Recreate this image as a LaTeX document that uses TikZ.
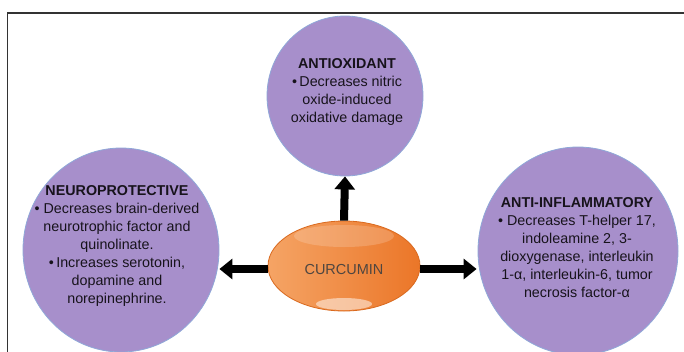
\documentclass[tikz,border=0pt]{standalone}
\usepackage{fontspec}
\setmainfont{Liberation Sans}
\usetikzlibrary{shapes.geometric,arrows.meta}
\definecolor{circfill}{HTML}{A78FCB}
\definecolor{circedge}{HTML}{8FA8D8}
\definecolor{orangeL}{HTML}{F5A465}
\definecolor{orangeD}{HTML}{EB7628}
\definecolor{orangeE}{HTML}{D9691E}
\definecolor{txt}{HTML}{17131B}
\definecolor{curtxt}{HTML}{4F4640}
\definecolor{framecol}{HTML}{333333}
\tikzset{
  bubble/.style={ellipse, draw=circedge, line width=0.8bp, fill=circfill, inner sep=0pt},
  bodytext/.style={align=center, font=\fontsize{14.3bp}{18bp}\selectfont, text=txt, inner sep=0pt},
  fat/.style={line width=8bp, -{Triangle[width=20bp,length=13bp]}},
}
\begin{document}
\begin{tikzpicture}[x=1bp,y=-1bp]
\fill[white] (0,0) rectangle (684,351);
\useasboundingbox (0,0) rectangle (684,351);
% frame
\draw[line width=1.3bp, framecol] (7.5,352) -- (7.5,13) -- (685,13);
% bubbles
\node[bubble, minimum width=156bp, minimum height=160bp] (antiox) at (345,96) {};
\node[bubble, minimum width=196bp, minimum height=204bp] (neuro) at (121,250) {};
\node[bubble, minimum width=200bp, minimum height=208bp] (antiinf) at (578,251) {};
% curcumin
\node[ellipse, minimum width=152bp, minimum height=90bp, draw=orangeE, line width=0.8bp,
      left color=orangeL, right color=orangeD, inner sep=0pt] (cur) at (344,266) {};
\fill[white, opacity=0.18] (344,236) ellipse (50 and 11);
\fill[white, opacity=0.5] (344,304) ellipse (28 and 6);
\node[font=\fontsize{14.5bp}{16bp}\selectfont, text=curtxt] (curlabel) at (344,269) {CURCUMIN};
% arrows
\draw[fat] (cur.north) -- (antiox.south);
\draw[fat] (cur.west |- curlabel) -- (neuro.east |- curlabel);
\draw[fat] (cur.east |- curlabel) -- ([xshift=-1bp]antiinf.west |- curlabel);
% texts
\node[bodytext] (antioxtext) at (347,92) {\textbf{ANTIOXIDANT}\\ \textbullet\,Decreases nitric\\ oxide-induced\\ oxidative damage};
\node[bodytext] (neurotext) at (117,246) {\textbf{NEUROPROTECTIVE}\\ \textbullet\ Decreases brain-derived\\ neurotrophic factor and\\ quinolinate.\\ \textbullet\,Increases serotonin,\\ dopamine and\\ norepinephrine.};
\node[bodytext] (antiinftext) at (577,248) {\textbf{ANTI-INFLAMMATORY}\\ \textbullet\ Decreases T-helper 17,\\ indoleamine 2, 3-\\ dioxygenase, interleukin\\ 1-α, interleukin-6, tumor\\ necrosis factor-α};
\end{tikzpicture}
\end{document}
